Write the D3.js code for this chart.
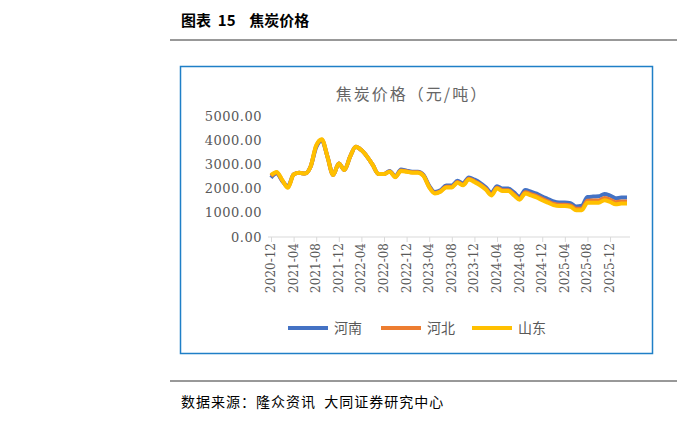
<!DOCTYPE html><html><head><meta charset="utf-8"><script src="https://cdn.jsdelivr.net/npm/d3@7"></script>
<style>body{margin:0;background:#fff}svg{font-family:"Noto Sans CJK SC",sans-serif}text{white-space:pre}</style></head><body><svg id="c" width="677" height="421"></svg>
<script>
const months=[];for(let i=0;i<64;i++){const y=2020+Math.floor((11+i)/12),m=(11+i)%12+1;months.push(y+"-"+String(m).padStart(2,"0"));}
const shandong=[2560,2690,2350,2030,2580,2650,2620,2900,3790,4040,3310,2560,3040,2770,3320,3730,3590,3320,2980,2600,2600,2700,2470,2730,2700,2660,2660,2520,2050,1800,1870,2050,2050,2240,2140,2380,2270,2140,1960,1720,2000,1900,1900,1720,1540,1800,1720,1640,1520,1420,1320,1280,1280,1250,1110,1110,1420,1420,1420,1520,1450,1350,1380,1380];
const henanDelta=[-110,-60,-40,70,0,0,0,0,-80,-60,0,0,0,0,0,0,0,0,0,0,0,30,30,60,40,40,40,40,60,60,60,80,80,80,80,80,100,100,100,100,100,100,100,120,120,140,150,150,150,150,150,150,150,150,150,180,230,250,260,260,260,250,250,250];
const henan=shandong.map((v,i)=>v+henanDelta[i]);
const hebei=shandong.map((v,i)=>v+Math.round(henanDelta[i]*0.35));
const series=[{name:"河南",color:"#4472C4",values:henan},{name:"河北",color:"#ED7D31",values:hebei},{name:"山东",color:"#FFC000",values:shandong}];
const yTicks=[0,1000,2000,3000,4000,5000];
const svg=d3.select("#c");
svg.append("text").attr("x",181).attr("y",26).attr("font-size",15).attr("font-weight","bold").text("图表  15    焦炭价格");
svg.append("line").attr("x1",170).attr("x2",677).attr("y1",40).attr("y2",40).attr("stroke","#333");
svg.append("rect").attr("x",180.5).attr("y",66.5).attr("width",472).attr("height",287).attr("fill","none").attr("stroke","#1F7FC7").attr("stroke-width",1.5);
svg.append("text").attr("x",412).attr("y",100).attr("text-anchor","middle").attr("font-size",16).attr("fill","#666").attr("letter-spacing",2).text("焦炭价格（元/吨）");
const x=d3.scalePoint().domain(months).range([271,627]);
const y=d3.scaleLinear().domain([0,5000]).range([237,116]);
const ya=svg.append("g").attr("transform","translate(262,0)").call(d3.axisLeft(y).tickValues(yTicks).tickFormat(d3.format(".2f")).tickSize(0).tickPadding(0));
ya.select(".domain").remove();
ya.selectAll("text").attr("font-family","'DejaVu Serif',serif").attr("font-size",13).attr("fill","#595959").attr("letter-spacing",0.5);
const xa=svg.append("g").attr("transform","translate(0,237)").call(d3.axisBottom(x).tickValues(months.filter((d,i)=>i%4==0)).tickSize(5).tickSizeOuter(0));
xa.select(".domain").attr("d","M268,0H630").attr("stroke","#d9d9d9");
xa.selectAll("line").attr("stroke","#d9d9d9");
xa.selectAll("text").attr("font-family","'DejaVu Serif',serif").attr("font-size",12).attr("fill","#595959").attr("transform","rotate(-90)").attr("text-anchor","end").attr("dx","-6").attr("y",0).attr("x",0).attr("dominant-baseline","middle").attr("dy","0");
const line=d3.line().x((d,i)=>x(months[i])).y(d=>y(d)).curve(d3.curveMonotoneX);
series.forEach(s=>svg.append("path").attr("d",line(s.values)).attr("fill","none").attr("stroke",s.color).attr("stroke-width",4).attr("stroke-linejoin","round"));
const lg=[{x:288},{x:381},{x:472}];
series.forEach((s,i)=>{svg.append("line").attr("x1",lg[i].x).attr("x2",lg[i].x+40).attr("y1",328).attr("y2",328).attr("stroke",s.color).attr("stroke-width",4);
svg.append("text").attr("x",lg[i].x+46).attr("y",333).attr("font-size",14).attr("fill","#595959").text(s.name);});
svg.append("line").attr("x1",170).attr("x2",677).attr("y1",381).attr("y2",381).attr("stroke","#333");
svg.append("text").attr("x",181).attr("y",407).attr("font-size",14).attr("letter-spacing",1).text("数据来源：隆众资讯  大同证券研究中心");
</script></body></html>
